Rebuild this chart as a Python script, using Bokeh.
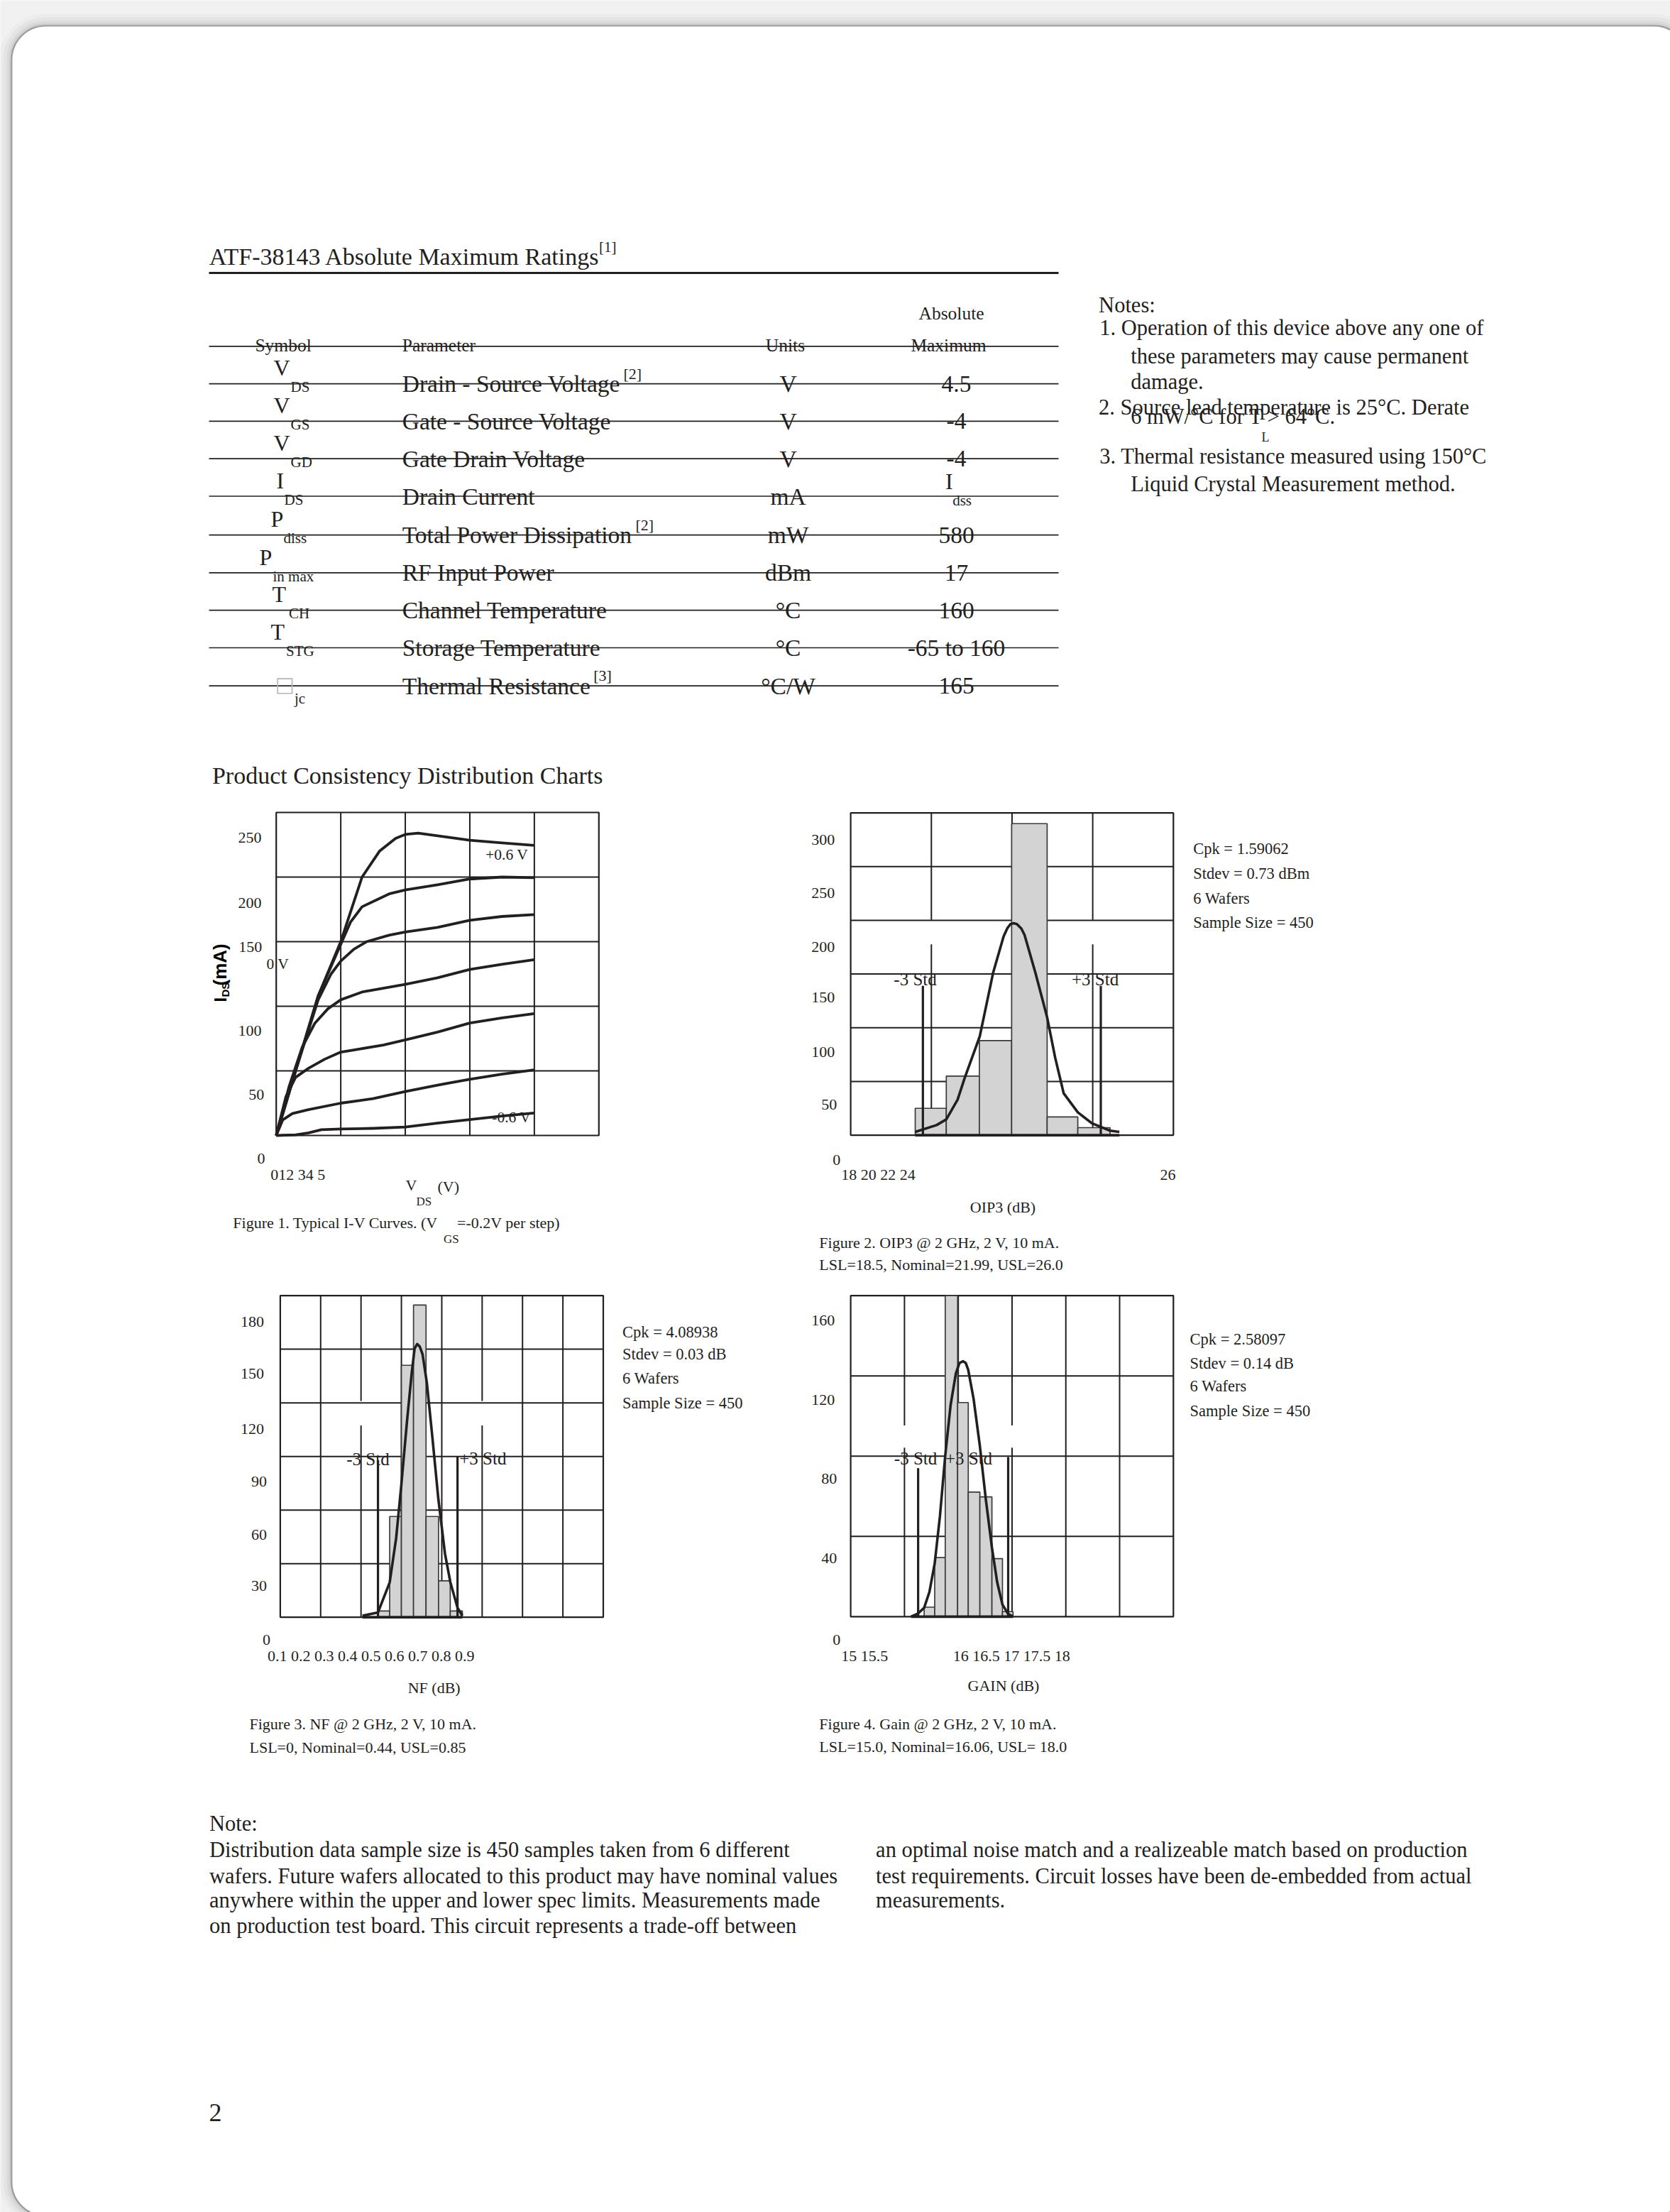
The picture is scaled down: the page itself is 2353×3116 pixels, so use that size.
import math
import numpy as np
from bokeh.plotting import figure
from bokeh.models import Range1d, BoxAnnotation, ColumnDataSource
from bokeh.core.properties import value
from bokeh.embed import file_html
from bokeh.resources import INLINE

# ======================= DATA =======================
# --- Absolute maximum ratings table ---
sym_main = ["V", "V", "V", "I", "P", "P", "T", "T", "\u25a1"]
sym_sub = ["DS", "GS", "GD", "DS", "diss", "in max", "CH", "STG", "jc"]
params = ["Drain - Source Voltage", "Gate - Source Voltage", "Gate Drain Voltage",
          "Drain Current", "Total Power Dissipation", "RF Input Power",
          "Channel Temperature", "Storage Temperature", "Thermal Resistance"]
units = ["V", "V", "V", "mA", "mW", "dBm", "\u00b0C", "\u00b0C", "\u00b0C/W"]
maxima = ["4.5", "-4", "-4", "I", "580", "17", "160", "-65 to 160", "165"]
param_refs = ["[2]", "", "", "", "[2]", "", "", "", "[3]"]

notes_right = ["Notes:",
               "1. Operation of this device above any one of",
               "these parameters may cause permanent",
               "damage.",
               "2. Source lead temperature is 25\u00b0C. Derate",
               "6 mW/\u00b0C for T   > 64\u00b0C.",
               "3. Thermal resistance measured using 150\u00b0C",
               "Liquid Crystal Measurement method."]

# --- Figure 1: typical I-V curves (VDS in V, IDS in mA) ---
iv_v = [
    [0, 0.3, 0.65, 1.0, 1.33, 1.6, 1.85, 2.0, 2.2, 2.5, 3.0, 3.5, 4.0],
    [0, 0.3, 0.65, 1.0, 1.15, 1.33, 1.75, 2.0, 2.5, 3.0, 3.5, 4.0],
    [0, 0.3, 0.65, 0.85, 1.0, 1.2, 1.4, 1.75, 2.0, 2.5, 3.0, 3.5, 4.0],
    [0, 0.2, 0.4, 0.6, 0.8, 1.0, 1.33, 2.0, 2.5, 3.0, 3.5, 4.0],
    [0, 0.15, 0.3, 0.5, 0.75, 1.0, 1.3, 1.66, 2.0, 2.5, 3.0, 3.5, 4.0],
    [0, 0.1, 0.25, 0.5, 1.0, 1.5, 2.0, 2.5, 3.0, 3.5, 4.0],
    [0, 0.3, 0.5, 0.7, 1.0, 1.5, 2.0, 2.5, 3.0, 3.5, 4.0],
]
iv_i = [
    [0, 50, 108, 150, 200, 220, 230, 233, 234, 232, 228.5, 226.5, 224.5],
    [0, 50, 108, 148, 165, 177, 187, 190, 194, 198.5, 200, 199.5],
    [0, 50, 105, 125, 135, 144, 150, 155, 157.5, 161, 166.5, 169.5, 171],
    [0, 38, 68, 87, 98, 105, 111, 117, 122, 128.5, 132.5, 136],
    [0, 30, 45, 52, 59, 64.5, 67, 70, 74, 80, 87, 91, 94.3],
    [0, 12, 17, 20, 25, 28.5, 34, 39, 43.5, 47.5, 50.7],
    [0, 0.5, 2, 4.5, 5, 5.5, 6.5, 9.5, 12.3, 15, 17.4],
]
iv_yticks = [250, 200, 150, 100, 50, 0]
iv_xtick_text = ["012 34 5"]
iv_xtick_at = [0]

# --- Figure 2: OIP3 distribution ---
oip3_edges = [19.60, 20.37, 21.19, 21.99, 22.87, 23.63, 24.43]
oip3_count = [25, 55, 88, 290, 17, 7]
oip3_fit_x = [19.60, 20.13, 20.37, 20.65, 20.83, 21.20, 21.53, 21.79, 21.88, 21.96, 22.04,
              22.12, 22.23, 22.31, 22.58, 22.87, 23.07, 23.28, 23.63, 23.98, 24.43, 24.66]
oip3_fit_y = [3.0, 9.4, 14.7, 33, 53.7, 92, 151, 184.9, 192.4, 196.5, 197.3,
              196.5, 192.4, 186.4, 151, 109.7, 72, 39, 21.3, 11, 4.2, 3]
oip3_std_x = [19.79, 24.20]
oip3_std_top = [139, 139]
oip3_yticks = [300, 250, 200, 150, 100, 50, 0]
oip3_xtick_text = ["18 20 22 24", "26"]
oip3_xtick_at = [18, 26]
oip3_stats = ["Cpk = 1.59062", "Stdev = 0.73 dBm", "6 Wafers", "Sample Size = 450"]
oip3_caption = ["Figure 2. OIP3 @ 2 GHz, 2 V, 10 mA.", "LSL=18.5, Nominal=21.99, USL=26.0"]

# --- Figure 3: NF distribution ---
nf_edges = [0.342, 0.371, 0.400, 0.430, 0.461, 0.492, 0.521, 0.551]
nf_count = [3.5, 56.4, 141, 174.7, 56.4, 20.4, 3.5]
nf_fit_x = [0.3035, 0.342, 0.371, 0.387, 0.400, 0.414, 0.4255, 0.4327, 0.439, 0.4452,
            0.4524, 0.463, 0.4766, 0.4918, 0.508, 0.5214, 0.539, 0.551]
nf_fit_y = [0.9, 2.7, 19.5, 44.3, 74.5, 110, 136.6, 150.4, 152.9, 151.6,
            147.2, 131.3, 101, 65.6, 35.5, 19.5, 5.3, 0.9]
nf_std_x = [0.342, 0.539]
nf_std_top = [88, 90]
nf_yticks = [180, 150, 120, 90, 60, 30, 0]
nf_xtick_text = ["0.1 0.2 0.3 0.4 0.5 0.6 0.7 0.8 0.9"]
nf_xtick_at = [0.1]
nf_stats = ["Cpk = 4.08938", "Stdev = 0.03 dB", "6 Wafers", "Sample Size = 450"]
nf_caption = ["Figure 3. NF @ 2 GHz, 2 V, 10 mA.", "LSL=0, Nominal=0.44, USL=0.85"]

# --- Figure 4: Gain distribution ---
gain_edges = [15.683, 15.781, 15.879, 15.994, 16.093, 16.201, 16.313, 16.411, 16.509]
gain_count = [4.7, 29.4, 175, 106.7, 62.1, 59.7, 28.9, 2.5]
gain_fit_x = [15.561, 15.627, 15.683, 15.732, 15.781, 15.830, 15.879, 15.929, 15.978, 16.011,
              16.044, 16.070, 16.093, 16.142, 16.201, 16.257, 16.313, 16.362, 16.411, 16.464,
              16.510]
gain_fit_y = [0, 1.6, 4.4, 12.3, 26.5, 50.2, 80.3, 105.5, 121.3, 126.4,
              127.3, 126.4, 122.9, 108.7, 85, 58.1, 34.4, 17.1, 6, 1.3,
              0]
gain_std_x = [15.627, 16.464]
gain_std_top = [74, 79.5]
gain_yticks = [160, 120, 80, 40, 0]
gain_xtick_text = ["15 15.5", "16 16.5 17 17.5 18"]
gain_xtick_at = [15, 16]
gain_stats = ["Cpk = 2.58097", "Stdev = 0.14 dB", "6 Wafers", "Sample Size = 450"]
gain_caption = ["Figure 4. Gain @ 2 GHz, 2 V, 10 mA.", "LSL=15.0, Nominal=16.06, USL= 18.0"]

bottom_left = ["Distribution data sample size is 450 samples taken from 6 different",
               "wafers. Future wafers allocated to this product may have nominal values",
               "anywhere within the upper and lower spec limits. Measurements made",
               "on production test board. This circuit represents a trade-off between"]
bottom_right = ["an optimal noise match and a realizeable match based on production",
                "test requirements. Circuit losses have been de-embedded from actual",
                "measurements."]

# ======================= STYLE / LAYOUT =======================
INK = "#231f20"
SERIF = "Liberation Serif"
SANS = "Liberation Sans"
BAR_FILL = "#d3d3d3"
BL = 0.37   # baseline correction (em) for the svg text renderer

W, H = 2353, 3116
p = figure(width=W, height=H, x_range=Range1d(0, W), y_range=Range1d(-H, 0),
           output_backend="svg", toolbar_location=None,
           x_axis_location=None, y_axis_location=None, min_border=0,
           background_fill_color="#f1f1f1", border_fill_color="#f1f1f1",
           outline_line_color=None)
p.grid.visible = False


def T(x, y, s, size, align="left", font=SERIF, bold=False, color=INK, angle=0.0):
    if angle:
        x = x - BL * size
    else:
        y = y - BL * size
    p.text(x=[x], y=[-y], text=[s], text_font=value(font), text_font_size=f"{size}px",
           text_align=align, text_baseline="alphabetic", text_color=color, angle=angle,
           text_font_style="bold" if bold else "normal")


def box(**kw):
    try:
        return BoxAnnotation(border_radius=48, **kw)
    except Exception:
        return BoxAnnotation(**kw)


# page card with soft shadow
for w, a in [(34, 0.02), (24, 0.03), (14, 0.045), (7, 0.06)]:
    p.add_layout(box(left=16, right=2378, top=-36, bottom=-3121, fill_color=None,
                     line_color="black", line_alpha=a, line_width=w, level="underlay"))
p.add_layout(box(left=16, right=2378, top=-36, bottom=-3121, fill_color="white",
                 fill_alpha=1.0, line_color="black", line_width=2.2, level="underlay"))

# ---------------- title + table ----------------
T(294.2, 373.5, "ATF-38143 Absolute Maximum Ratings", 34)
T(843.6, 355, "[1]", 21)
p.segment(x0=[294], x1=[1491], y0=[-384], y1=[-384], line_color=INK, line_width=3)

hdr_line = 487.3
row_lines = [540.1, 592.9, 645.7, 698.5, 753.2, 806.4, 859.2, 912.0, 965.7]
p.segment(x0=[294] * 10, x1=[1491] * 10, y0=[-v for v in [hdr_line] + row_lines],
          y1=[-v for v in [hdr_line] + row_lines], line_color=INK, line_width=1.7)

T(1340, 450.6, "Absolute", 25.5, align="center")
T(398.6, 495, "Symbol", 25.5, align="center")
T(566.2, 495, "Parameter", 25.5)
T(1106, 495, "Units", 25.5, align="center")
T(1336, 495, "Maximum", 25.5, align="center")

sym_x = [385, 385, 385, 389, 381, 365, 383, 381, 401]
sub_x = [409, 409, 409, 400, 399, 384, 406.5, 402.5, 414.4]
ref_x = [878, 0, 0, 0, 895, 0, 0, 0, 835.7]
ref_dy = [-6, 0, 0, 0, -5.6, 0, 0, 0, -6.9]
for i, ly in enumerate(row_lines):
    base = ly + 12.4
    T(566.2, base, params[i], 33.5)
    T(1110, base, units[i], 33.5, align="center")
    if i == 3:
        T(1331.4, 689.3, maxima[i], 32)
        T(1341.7, 712.3, "dss", 21)
    else:
        T(1347, base, maxima[i], 33.5, align="center")
    if i == 8:
        T(sym_x[i], ly + 9, sym_main[i], 29, align="center", font="DejaVu Sans",
          color="#b8b8b8")
        T(sub_x[i], ly + 25.3, sym_sub[i], 21)
    else:
        T(sym_x[i], ly - 10.5, sym_main[i], 32)
        T(sub_x[i], base, sym_sub[i], 21)
    if param_refs[i]:
        T(ref_x[i], ly + ref_dy[i], param_refs[i], 22)

# ---------------- right notes ----------------
note_pos = [(1547.6, 440.7), (1548.7, 472.7), (1592.7, 512.7), (1592.7, 548.3),
            (1547.6, 585.0), (1592.7, 597.3), (1548.7, 653.3), (1592.7, 692.7)]
for (nx, ny), s in zip(note_pos, notes_right):
    T(nx, ny, s, 30.5)
T(1777, 621.7, "L", 18)

T(298.4, 1104.3, "Product Consistency Distribution Charts", 34)


# ---------------- chart helpers ----------------
def make_sub(frame, xr, ymax):
    L, R, Tp, B = frame
    return p.subplot(x_source=Range1d(xr[0], xr[1]), y_source=Range1d(0, ymax),
                     x_target=Range1d(L, R), y_target=Range1d(-B, -Tp))


def draw_grid(sub, xr, ymax, xgrid, ygrid, gap_x=(), gap=(0, 0)):
    x0s, x1s, y0s, y1s = [], [], [], []
    for gx in xgrid:
        if gx in gap_x:
            x0s += [gx, gx]; x1s += [gx, gx]; y0s += [0, gap[1]]; y1s += [gap[0], ymax]
        else:
            x0s.append(gx); x1s.append(gx); y0s.append(0); y1s.append(ymax)
    for gy in ygrid:
        x0s.append(xr[0]); x1s.append(xr[1]); y0s.append(gy); y1s.append(gy)
    sub.segment(x0=x0s, x1=x1s, y0=y0s, y1=y1s, line_color=INK, line_width=2)
    sub.quad(left=[xr[0]], right=[xr[1]], bottom=[0], top=[ymax], fill_color=None,
             line_color=INK, line_width=2.2)


def sub_text(sub, x, y, t, dx, dy, align, size):
    src = ColumnDataSource(dict(x=x, y=y, t=t, dx=dx,
                                dy=[d - BL * size for d in dy], a=align))
    sub.text(x="x", y="y", text="t", x_offset="dx", y_offset="dy", source=src,
             text_align="a", text_baseline="alphabetic", text_font=value(SERIF),
             text_font_size=f"{size}px", text_color=INK)


def draw_yticks(sub, xr, vals, dx, dy, size=22):
    n = len(vals)
    sub_text(sub, [xr[0]] * n, vals, [str(v) for v in vals], dx, dy, ["right"] * n, size)


def draw_xticks(sub, at, texts, dx, dy, aligns, size=22):
    sub_text(sub, at, [0] * len(at), texts, dx, [dy] * len(at), aligns, size)


def draw_hist(sub, ymax, edges, counts, fit_x, fit_y, std_x, std_top, std_dx, std_dy):
    tops = np.minimum(np.array(counts, dtype=float), ymax)
    sub.quad(left=edges[:-1], right=edges[1:], bottom=[0] * len(counts), top=tops,
             fill_color=BAR_FILL, line_color="#3a3a3a", line_width=1.7)
    sub.segment(x0=[fit_x[0]], x1=[fit_x[-1]], y0=[0], y1=[0], line_color=INK, line_width=3.8)
    sub.line(fit_x, fit_y, line_color=INK, line_width=3.6, line_join="round")
    sub.segment(x0=std_x, x1=std_x, y0=[0] * len(std_x), y1=std_top, line_color=INK,
                line_width=3.2)
    sub_text(sub, std_x, std_top, ["-3 Std", "+3 Std"], std_dx, std_dy, ["left", "left"], 25)


# ---------------- Figure 1 ----------------
f1 = (388.7, 843.3, 1144, 1599)
s1 = make_sub(f1, (0, 5), 250)
draw_grid(s1, (0, 5), 250, [1, 2, 3, 4], [50, 100, 150, 200])
for vx, iy in zip(iv_v, iv_i):
    s1.line(vx, iy, line_color=INK, line_width=3.8, line_join="round")
draw_yticks(s1, (0, 5), iv_yticks, [-20.7, -20.7, -20, -20.7, -17, -15.7],
            [44, 45, 16, 43, 42, 41])
draw_xticks(s1, iv_xtick_at, iv_xtick_text, [-8], 62.7, ["left"])
T(683.7, 1211.7, "+0.6 V", 21.5)
T(747.7, 1581.7, "-0.6 V", 21.5, align="right")
T(374.9, 1365, "0 V", 21.5)
T(570.9, 1676.7, "V", 22)
T(586, 1698, "DS", 17)
T(616, 1679, "(V)", 22)
T(327.8, 1730, "Figure 1. Typical I-V Curves. (V", 22)
T(643.6, 1730, "=-0.2V per step)", 22)
T(624.4, 1751.7, "GS", 17)
T(319, 1411, "I", 24, font=SANS, bold=True, color="black", angle=math.pi / 2)
T(323, 1404, "DS", 15, font=SANS, bold=True, color="black", angle=math.pi / 2)
T(319, 1388, "(mA)", 26, font=SANS, bold=True, color="black", angle=math.pi / 2)

# ---------------- Figure 2 ----------------
f2 = (1198.1, 1652.8, 1144.6, 1598.6)
s2 = make_sub(f2, (18, 26), 300)
draw_grid(s2, (18, 26), 300, [20, 22, 24], [50, 100, 150, 200, 250], gap_x=(20, 24),
          gap=(177.6, 200.4))
draw_hist(s2, 300, oip3_edges, oip3_count, oip3_fit_x, oip3_fit_y, oip3_std_x,
          oip3_std_top, [-41, -41], [0, 0])
draw_yticks(s2, (18, 26), oip3_yticks, [-22.4] * 5 + [-19.4, -14.4],
            [45.9, 45.7, 46.1, 40.8, 42.3, 41.1, 42.8])
draw_xticks(s2, oip3_xtick_at, oip3_xtick_text, [-13.4, 3.2], 63.8, ["left", "right"])
T(1412.5, 1708.4, "OIP3 (dB)", 22, align="center")
for s, yy in zip(oip3_caption, [1758.4, 1789.6]):
    T(1153.8, yy, s, 22)
for s, yy in zip(oip3_stats, [1203.5, 1238.3, 1273.1, 1307.5]):
    T(1680.7, yy, s, 22.5)

# ---------------- Figure 3 ----------------
f3 = (394.4, 849.5, 1824.6, 2277.7)
s3 = make_sub(f3, (0.1, 0.9), 180)
draw_grid(s3, (0.1, 0.9), 180, [0.2, 0.3, 0.4, 0.5, 0.6, 0.7, 0.8], [30, 60, 90, 120, 150],
          gap_x=(0.3, 0.6), gap=(107.3, 121))
draw_hist(s3, 180, nf_edges, nf_count, nf_fit_x, nf_fit_y, nf_std_x, nf_std_top,
          [-44.3, 2.6], [7.6, 11.8])
draw_yticks(s3, (0.1, 0.9), nf_yticks, [-23, -23, -23, -19, -19, -19, -13.8],
            [44.6, 42.8, 45.4, 43.4, 42.9, 39.8, 40.2])
draw_xticks(s3, nf_xtick_at, nf_xtick_text, [-17.9], 62.3, ["left"])
T(611.2, 2384.8, "NF (dB)", 22, align="center")
for s, yy in zip(nf_caption, [2436, 2469.6]):
    T(351, yy, s, 22)
for s, yy in zip(nf_stats, [1883.9, 1915.2, 1949.6, 1983.9]):
    T(876.5, yy, s, 22.5)

# ---------------- Figure 4 ----------------
f4 = (1198.1, 1652.8, 1824.6, 2276.8)
s4 = make_sub(f4, (15, 18), 160)
draw_grid(s4, (15, 18), 160, [15.5, 16, 16.5, 17, 17.5], [40, 80, 120],
          gap_x=(15.5, 16.5), gap=(84.2, 95.3))
draw_hist(s4, 160, gain_edges, gain_count, gain_fit_x, gain_fit_y, gain_std_x,
          gain_std_top, [-33.8, -88.6], [-4.5, 11.2])
draw_yticks(s4, (15, 18), gain_yticks, [-22.4, -22.4, -19.4, -19.4, -14.4],
            [43.3, 42.2, 40.3, 39.2, 41.1])
draw_xticks(s4, gain_xtick_at, gain_xtick_text, [-13.4, -7.3], 63.2, ["left", "left"])
T(1413.5, 2382.6, "GAIN (dB)", 22, align="center")
for s, yy in zip(gain_caption, [2436.2, 2468.3]):
    T(1153.8, yy, s, 22)
for s, yy in zip(gain_stats, [1894.6, 1928.6, 1960.7, 1995.5]):
    T(1676.1, yy, s, 22.5)

# ---------------- bottom note ----------------
T(294.5, 2580, "Note:", 30.5)
for s, yy in zip(bottom_left, [2616.7, 2653.3, 2687.3, 2723.3]):
    T(294.5, yy, s, 30.5)
for s, yy in zip(bottom_right, [2616.7, 2653.3, 2687.3]):
    T(1233.6, yy, s, 30.5)
T(294, 2988.7, "2", 36)

open("out.html", "w").write(file_html(p, INLINE))
